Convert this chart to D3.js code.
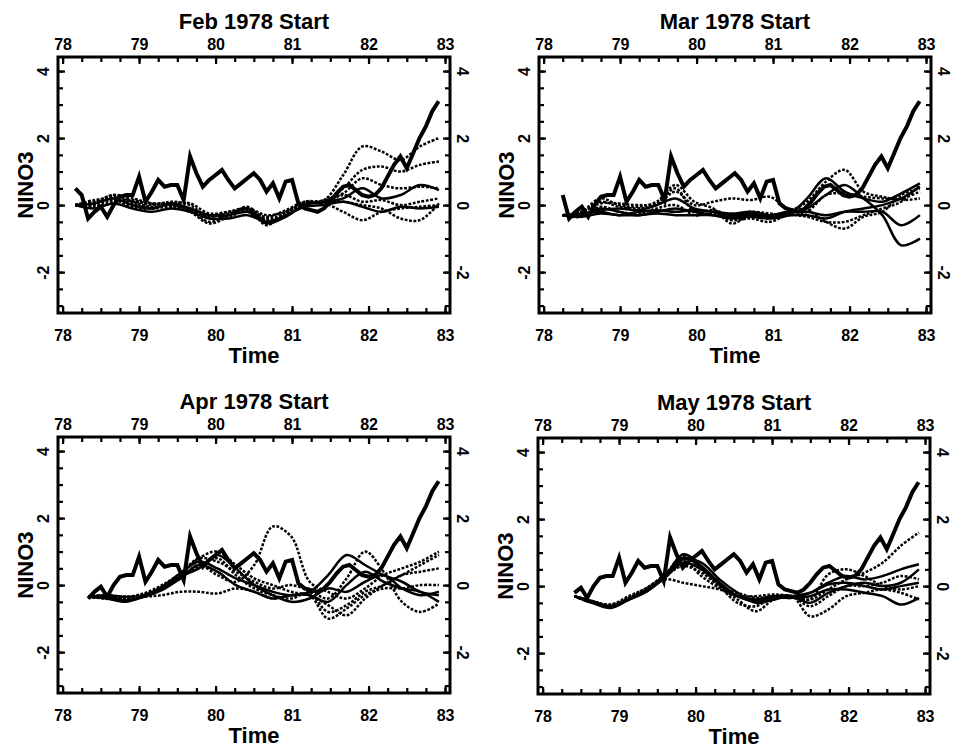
<!DOCTYPE html>
<html>
<head>
<meta charset="utf-8">
<script src="https://cdn.jsdelivr.net/npm/d3@7"></script>
<style>
    body { margin: 0; background: #fff; }
    text { font-family: "Liberation Sans", Arial, Helvetica, sans-serif; font-weight: bold; fill: #000; }
</style>
</head>
<body>
<div id="chart"></div>
<script>
// panel titles and forecast start month (1 = Jan)
var panelTitles = ["Feb 1978 Start", "Mar 1978 Start", "Apr 1978 Start", "May 1978 Start"];
var startMonths = [2, 3, 4, 5];
var xTickValues = [78, 79, 80, 81, 82, 83];
var yTickValues = [-2, 0, 2, 4];

// observed NINO3, monthly Feb 1978 .. Nov 1982
var obsNino3 = [
    0.5, 0.3, -0.4, -0.2, -0.05, -0.35, 0.0, 0.25, 0.3, 0.3, 0.85,
    0.1, 0.4, 0.75, 0.55, 0.6, 0.6, 0.15, 1.45, 0.95, 0.55, 0.75, 0.9,
    1.05, 0.75, 0.5, 0.65, 0.8, 0.95, 0.75, 0.4, 0.65, 0.2, 0.7, 0.75,
    0.05, -0.1, -0.15, -0.2, -0.1, 0.1, 0.35, 0.55, 0.6, 0.45, 0.3, 0.25,
    0.3, 0.5, 0.85, 1.2, 1.45, 1.1, 1.55, 2.0, 2.35, 2.8, 3.1
];

// ensemble members, 20 evenly spaced values from the start month to late 1982
var febMembers = [
    [0.0, 0.1, 0.3, 0.2, 0.05, 0.0, -0.15, -0.35, -0.2, -0.15, -0.4, -0.25, 0.1, 0.15, 0.9, 1.75, 1.6, 1.35, 1.75, 2.0],
    [0.0, 0.15, 0.2, 0.1, 0.05, 0.05, -0.1, -0.3, -0.25, -0.1, -0.3, -0.2, 0.05, 0.1, 0.5, 1.05, 1.15, 1.0, 1.2, 1.3],
    [0.0, -0.05, 0.1, 0.15, 0.0, 0.1, 0.0, -0.4, -0.3, -0.05, -0.5, -0.3, 0.0, 0.15, 0.35, 0.8, 0.6, 0.5, 0.55, 0.5],
    [0.0, 0.05, 0.2, 0.0, -0.1, 0.05, -0.1, -0.3, -0.3, -0.2, -0.55, -0.35, 0.0, 0.1, 0.2, 0.5, 0.2, 0.3, 0.6, 0.45],
    [0.0, 0.1, 0.25, 0.05, -0.1, -0.05, -0.2, -0.55, -0.35, -0.2, -0.45, -0.3, 0.05, 0.05, -0.2, -0.45, -0.2, -0.1, -0.05, 0.0],
    [0.0, 0.0, 0.15, -0.05, -0.1, 0.05, 0.05, -0.25, -0.2, -0.1, -0.6, -0.2, 0.05, 0.1, 0.1, 0.0, -0.1, -0.4, -0.45, 0.05],
    [0.0, -0.1, 0.05, -0.1, -0.2, -0.1, -0.2, -0.4, -0.4, -0.3, -0.5, -0.3, -0.05, 0.0, 0.1, -0.05, -0.2, -0.05, -0.1, -0.05],
    [0.0, 0.05, 0.3, 0.1, -0.05, 0.0, -0.15, -0.5, -0.3, -0.15, -0.35, -0.15, 0.1, 0.05, 0.3, 0.1, 0.15, 0.0, 0.1, 0.2]
];
var marMembers = [
    [-0.3, -0.2, 0.2, 0.0, -0.05, 0.1, 0.6, 0.1, -0.1, -0.55, -0.3, -0.4, -0.2, 0.1, 0.7, 1.05, 0.4, 0.25, 0.15, 0.2],
    [-0.3, -0.3, -0.1, -0.2, -0.3, -0.2, -0.1, -0.2, -0.3, -0.4, -0.35, -0.4, -0.3, 0.2, 0.8, 0.4, 0.2, 0.1, 0.35, 0.65],
    [-0.3, -0.25, 0.1, -0.05, -0.1, 0.0, 0.4, 0.0, 0.1, 0.2, 0.15, 0.25, -0.1, -0.15, -0.5, -0.7, -0.35, -0.2, 0.3, 0.5],
    [-0.3, -0.35, -0.25, -0.3, -0.3, -0.25, -0.3, -0.3, -0.3, -0.35, -0.3, -0.35, -0.25, -0.1, 0.3, 0.6, 0.2, -0.3, -1.2, -1.0],
    [-0.3, -0.3, -0.15, -0.1, -0.15, 0.0, 0.2, -0.1, -0.2, -0.3, -0.25, -0.3, -0.2, -0.2, -0.3, -0.2, -0.2, -0.2, -0.6, -0.3],
    [-0.3, -0.2, 0.05, 0.05, 0.0, 0.05, 0.5, -0.2, -0.15, -0.3, -0.2, -0.25, -0.3, -0.2, 0.3, 0.35, 0.25, 0.2, 0.2, 0.4],
    [-0.3, -0.25, -0.2, -0.3, -0.2, -0.15, -0.2, -0.15, -0.2, -0.25, -0.2, -0.3, -0.3, -0.3, -0.4, -0.2, -0.1, 0.0, 0.2, 0.55],
    [-0.3, -0.35, -0.05, -0.2, -0.25, -0.1, 0.0, -0.3, -0.25, -0.45, -0.4, -0.5, -0.3, -0.35, -0.5, -0.5, -0.3, -0.1, 0.1, 0.6]
];
var aprMembers = [
    [-0.35, -0.4, -0.45, -0.35, -0.1, 0.3, 0.8, 1.0, 0.6, 0.2, 0.0, -0.2, -0.3, -0.6, -0.9, -0.4, 0.0, 0.3, 0.6, 0.9],
    [-0.35, -0.35, -0.4, -0.3, -0.1, 0.2, 0.6, 0.3, 0.1, 0.6, 1.75, 1.45, 0.1, -0.2, -0.4, -0.1, 0.3, 0.5, 0.7, 1.0],
    [-0.35, -0.3, -0.4, -0.35, -0.3, -0.2, -0.2, -0.25, -0.1, -0.2, -0.4, -0.3, -0.3, -1.0, -0.7, -0.3, -0.1, -0.1, 0.0, 0.0],
    [-0.35, -0.3, -0.35, -0.3, -0.05, 0.35, 0.7, 0.5, 0.2, 0.0, -0.2, -0.3, -0.2, 0.3, 0.9, 0.6, 0.3, 0.1, -0.2, -0.3],
    [-0.35, -0.4, -0.4, -0.3, -0.05, 0.3, 0.55, 0.8, 0.3, -0.1, -0.3, -0.4, -0.2, -0.4, 0.2, 1.0, 0.4, -0.5, -0.8, -0.55],
    [-0.35, -0.35, -0.45, -0.35, -0.15, 0.2, 0.6, 0.4, 0.0, -0.2, -0.4, -0.3, -0.3, -0.5, 0.0, 0.4, 0.1, -0.1, -0.2, -0.5],
    [-0.35, -0.3, -0.35, -0.25, 0.0, 0.35, 0.8, 0.7, 0.4, 0.1, -0.1, 0.0, -0.2, -0.8, -0.6, -0.2, 0.0, 0.3, 0.4, 0.5],
    [-0.35, -0.4, -0.5, -0.35, -0.1, 0.25, 0.5, 0.9, 0.5, 0.0, -0.3, -0.5, -0.4, -0.1, -0.2, 0.1, 0.3, -0.1, -0.3, -0.2]
];
var mayMembers = [
    [-0.3, -0.5, -0.6, -0.35, -0.1, 0.35, 0.9, 0.5, 0.0, -0.5, -0.6, -0.3, -0.3, -0.4, -0.1, 0.2, 0.4, 0.7, 1.2, 1.6],
    [-0.3, -0.45, -0.6, -0.4, -0.1, 0.3, 0.95, 0.6, 0.1, -0.3, -0.4, -0.3, -0.35, -0.2, 0.1, 0.3, 0.2, 0.3, 0.5, 0.65],
    [-0.3, -0.5, -0.55, -0.35, -0.1, 0.2, 0.1, 0.0, -0.1, -0.3, -0.3, -0.25, -0.3, -0.4, 0.35, 0.5, 0.3, 0.0, -0.1, 0.0],
    [-0.3, -0.5, -0.65, -0.4, -0.15, 0.3, 0.8, 0.7, 0.2, -0.2, -0.5, -0.4, -0.3, -0.5, -0.2, 0.0, 0.1, 0.0, 0.1, 0.5],
    [-0.3, -0.45, -0.6, -0.35, -0.05, 0.3, 0.6, 0.4, 0.0, -0.4, -0.75, -0.4, -0.3, -0.9, -0.7, -0.3, -0.2, -0.1, -0.2, -0.4],
    [-0.3, -0.5, -0.6, -0.4, -0.15, 0.25, 0.7, 0.5, 0.1, -0.3, -0.45, -0.35, -0.35, -0.3, -0.1, -0.1, -0.2, -0.3, -0.55, -0.35],
    [-0.3, -0.45, -0.55, -0.3, -0.05, 0.35, 0.75, 0.3, -0.05, -0.2, -0.35, -0.3, -0.3, -0.6, -0.3, 0.0, 0.0, 0.1, 0.3, 0.2],
    [-0.3, -0.5, -0.6, -0.4, -0.15, 0.3, 0.85, 0.55, 0.05, -0.3, -0.45, -0.35, -0.3, -0.2, 0.05, 0.1, 0.0, -0.1, 0.0, 0.1]
];
var allMembers = [febMembers, marMembers, aprMembers, mayMembers];
var memberStyles = [
    ["dot", "dot", "dot", "solid", "dot", "dot", "solid", "dot"],
    ["dot", "solid", "dot", "solid", "solid", "dot", "solid", "dot"],
    ["dot", "dot", "dot", "solid", "dot", "solid", "dot", "solid"],
    ["dot", "solid", "dot", "solid", "dot", "solid", "dot", "solid"]
];
var forecastEnd = 82.92;

// layout
var width = 392;
var height = 256;
var origins = [[58, 57], [539, 57], [58, 437], [538, 438]];

var svg = d3.select("#chart").append("svg")
    .attr("width", 960)
    .attr("height", 751);

svg.append("rect").attr("width", 960).attr("height", 751).attr("fill", "#fff");

var x = d3.scaleLinear().domain([77.94, 83.065]).range([0, width]);
var y = d3.scaleLinear().domain([-3.22, 4.42]).range([height, 0]);

var memberLine = d3.line()
    .x(function (d) { return x(d[0]); })
    .y(function (d) { return y(d[1]); })
    .curve(d3.curveCatmullRom.alpha(0.5));

var obsLine = d3.line()
    .x(function (d) { return x(d[0]); })
    .y(function (d) { return y(d[1]); });

var fontFamily = '"Liberation Sans", Arial, Helvetica, sans-serif';

function styleAxis(sel, fontSize) {
    sel.select(".domain").remove();
    sel.attr("font-family", fontFamily).attr("font-size", fontSize).attr("font-weight", "bold");
    sel.selectAll("line").attr("stroke", "#000").attr("stroke-width", 2.2);
}

panelTitles.forEach(function (title, i) {
    var g = svg.append("g")
        .attr("transform", "translate(" + origins[i][0] + "," + origins[i][1] + ")");

    g.append("clipPath").attr("id", "clip" + i)
        .append("rect").attr("width", width).attr("height", height);

    var plot = g.append("g").attr("clip-path", "url(#clip" + i + ")");

    // ensemble forecasts
    var t0 = 78 + startMonths[i] / 12;
    allMembers[i].forEach(function (vals, j) {
        var pts = vals.map(function (v, k) {
            return [t0 + k * (forecastEnd - t0) / (vals.length - 1), v];
        });
        plot.append("path")
            .datum(pts)
            .attr("d", memberLine)
            .attr("fill", "none")
            .attr("stroke", "#000")
            .attr("stroke-width", 2.5)
            .attr("stroke-dasharray", memberStyles[i][j] === "dot" ? "2.8,1.6" : null);
    });

    // observed
    var obsPts = obsNino3.map(function (v, k) {
        return [78 + (k + 2) / 12, v];
    }).slice(startMonths[i] - 2);
    plot.append("path")
        .datum(obsPts)
        .attr("d", obsLine)
        .attr("fill", "none")
        .attr("stroke", "#000")
        .attr("stroke-width", 4)
        .attr("stroke-linejoin", "miter");

    // frame
    g.append("rect")
        .attr("width", width)
        .attr("height", height)
        .attr("fill", "none")
        .attr("stroke", "#000")
        .attr("stroke-width", 3);

    var xMinor = d3.range(78, 83.01, 0.25);
    var yMinor = d3.range(-3, 4.01, 0.5);

    // minor ticks
    g.append("g").attr("transform", "translate(0," + height + ")")
        .call(d3.axisBottom(x).tickValues(xMinor).tickSize(-5).tickFormat(""))
        .call(styleAxis, 16);
    g.append("g")
        .call(d3.axisTop(x).tickValues(xMinor).tickSize(-5).tickFormat(""))
        .call(styleAxis, 16);
    g.append("g")
        .call(d3.axisLeft(y).tickValues(yMinor).tickSize(-5).tickFormat(""))
        .call(styleAxis, 16);
    g.append("g").attr("transform", "translate(" + width + ",0)")
        .call(d3.axisRight(y).tickValues(yMinor).tickSize(-5).tickFormat(""))
        .call(styleAxis, 16);

    // major ticks with labels
    g.append("g").attr("transform", "translate(0," + height + ")")
        .call(d3.axisBottom(x).tickValues(xTickValues).tickSize(-7).tickPadding(17)
            .tickFormat(function (d) { return String(d); }))
        .call(styleAxis, 16);
    g.append("g")
        .call(d3.axisTop(x).tickValues(xTickValues).tickSize(-7).tickPadding(7)
            .tickFormat(function (d) { return String(d); }))
        .call(styleAxis, 16);

    var left = g.append("g")
        .call(d3.axisLeft(y).tickValues(yTickValues).tickSize(-7)
            .tickFormat(function (d) { return String(d); }))
        .call(styleAxis, 16);
    left.selectAll("text")
        .attr("x", 0).attr("y", 0).attr("dy", null)
        .attr("text-anchor", "middle")
        .attr("dominant-baseline", "central")
        .attr("transform", "translate(-15,0) rotate(-90)");

    var right = g.append("g").attr("transform", "translate(" + width + ",0)")
        .call(d3.axisRight(y).tickValues(yTickValues).tickSize(-7)
            .tickFormat(function (d) { return String(d); }))
        .call(styleAxis, 16);
    right.selectAll("text")
        .attr("x", 0).attr("y", 0).attr("dy", null)
        .attr("text-anchor", "middle")
        .attr("dominant-baseline", "central")
        .attr("transform", "translate(12,0) rotate(90)");

    // titles
    g.append("text")
        .attr("x", width / 2)
        .attr("y", -28)
        .attr("text-anchor", "middle")
        .attr("font-size", 22)
        .text(title);

    g.append("text")
        .attr("x", width / 2)
        .attr("y", height + 50)
        .attr("text-anchor", "middle")
        .attr("font-size", 22)
        .text("Time");

    g.append("text")
        .attr("transform", "translate(-33," + (height / 2) + ") rotate(-90)")
        .attr("text-anchor", "middle")
        .attr("dominant-baseline", "central")
        .attr("font-size", 22)
        .text("NINO3");
});
</script>
</body>
</html>
